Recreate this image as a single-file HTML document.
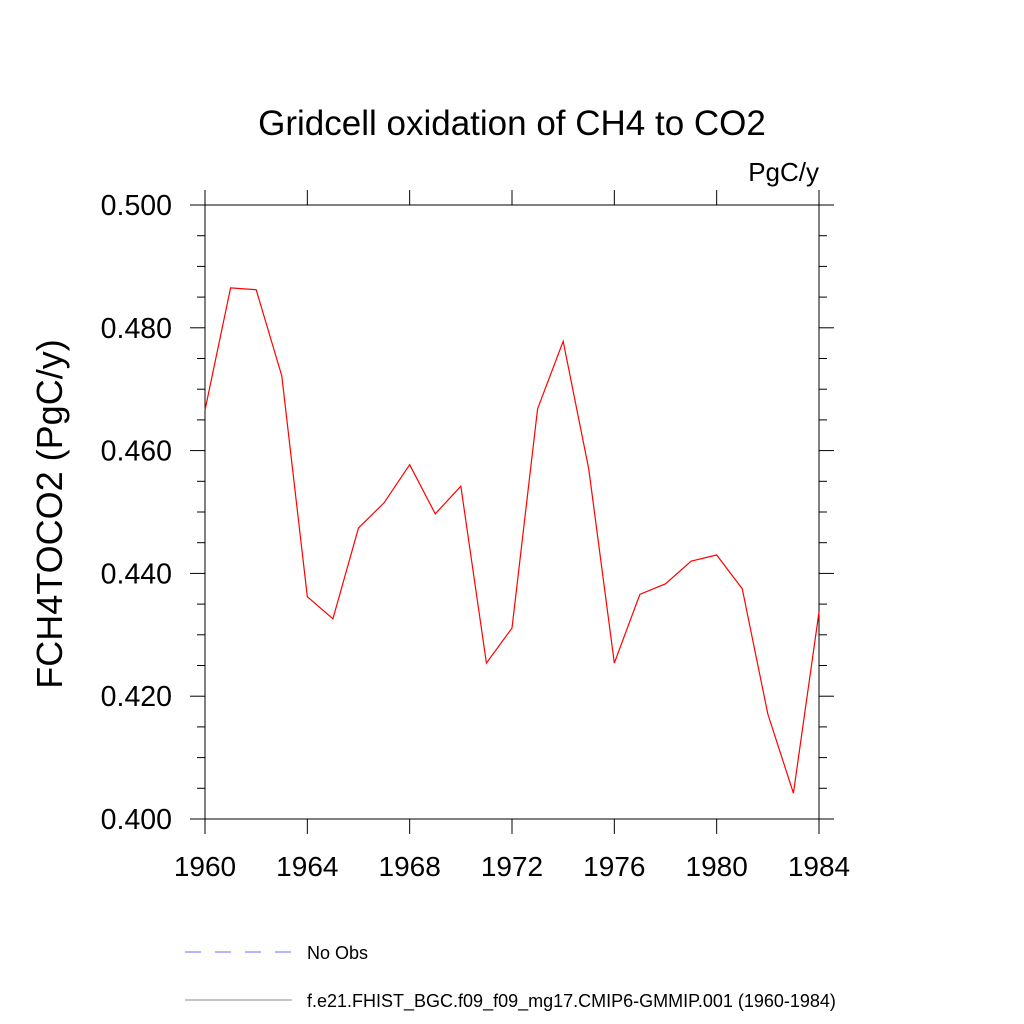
<!DOCTYPE html>
<html><head><meta charset="utf-8"><style>
body{margin:0;background:#fff;}
svg{display:block;font-family:"Liberation Sans",sans-serif;}
</style></head><body>
<svg id="chart" width="1024" height="1024" viewBox="0 0 1024 1024">
<text x="512" y="135" font-size="35" text-anchor="middle">Gridcell oxidation of CH4 to CO2</text>
<text x="819" y="181" font-size="26" text-anchor="end">PgC/y</text>
<text transform="translate(62,514) rotate(-90)" font-size="36" text-anchor="middle">FCH4TOCO2  (PgC/y)</text>
<g id="axes"></g>
<polyline id="series" fill="none" stroke="#ff0000" stroke-width="1.2"></polyline>
<g>
<line x1="185" y1="952" x2="292" y2="952" stroke="#6a6aff" stroke-width="1" stroke-dasharray="16,14"/>
<text x="307" y="959" font-size="18">No Obs</text>
<line x1="185" y1="1000" x2="292" y2="1000" stroke="#888" stroke-width="1"/>
<text x="307" y="1007" font-size="18">f.e21.FHIST_BGC.f09_f09_mg17.CMIP6-GMMIP.001 (1960-1984)</text>
</g>
</svg>
<script>
const years=[1960,1961,1962,1963,1964,1965,1966,1967,1968,1969,1970,1971,1972,1973,1974,1975,1976,1977,1978,1979,1980,1981,1982,1983,1984];
const values=[0.4666,0.4865,0.4862,0.4722,0.4362,0.4326,0.4474,0.4515,0.4577,0.4497,0.4542,0.4254,0.4311,0.4668,0.4778,0.4570,0.4254,0.4366,0.4383,0.4420,0.4430,0.4375,0.4171,0.4042,0.4337];
const xTicks=[1960,1964,1968,1972,1976,1980,1984];
const yTicks=[0.400,0.420,0.440,0.460,0.480,0.500];
const yTickLabels=["0.400","0.420","0.440","0.460","0.480","0.500"];
const L=205,R=819,T=205,B=819;
const xs=v=>L+(v-1960)/(1984-1960)*(R-L);
const ys=v=>B-(v-0.4)/(0.1)*(B-T);
const NS="http://www.w3.org/2000/svg";
const ax=document.getElementById('axes');
function ln(x1,y1,x2,y2,name){const l=document.createElementNS(NS,'line');l.setAttribute('x1',x1);l.setAttribute('y1',y1);l.setAttribute('x2',x2);l.setAttribute('y2',y2);l.setAttribute('stroke','#000');l.setAttribute('stroke-width','1');


ax.appendChild(l);}
ln(190,T,834,T,'top-axis');ln(190,B,834,B,'bottom-axis');ln(L,190,L,834,'left-axis');ln(R,190,R,834,'right-axis');
xTicks.forEach(v=>{const x=xs(v);ln(x,B,x,B+15,'x-tick');ln(x,T,x,T-15,'x-tick-top');
const t=document.createElementNS(NS,'text');t.setAttribute('x',x);t.setAttribute('y',876);t.setAttribute('font-size','28');t.setAttribute('text-anchor','middle');t.textContent=v;


ax.appendChild(t);});
for(let v=0.4;v<=0.5001;v+=0.005){const y=ys(v);const major=Math.abs(Math.round(v*50)-v*50)<1e-6;const len=major?15:8;ln(L-len,y,L,y,'y-tick');ln(R,y,R+len,y,'y-tick-right');}
yTicks.forEach((v,i)=>{const t=document.createElementNS(NS,'text');t.setAttribute('x',172);t.setAttribute('y',ys(v)+10);t.setAttribute('font-size','28.5');t.setAttribute('text-anchor','end');t.textContent=yTickLabels[i];


ax.appendChild(t);});
document.getElementById('series').setAttribute('points',years.map((y,i)=>xs(y)+','+ys(values[i])).join(' '));
</script>
</body></html>
